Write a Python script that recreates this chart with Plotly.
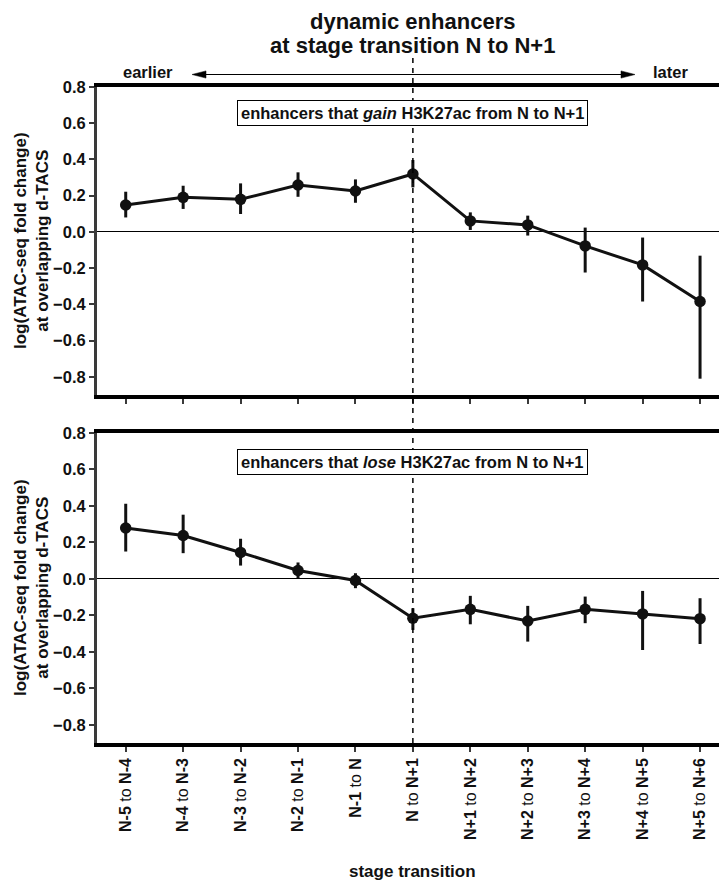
import plotly.graph_objects as go

# Stage transitions on the x axis
transitions = ["N-5 to N-4", "N-4 to N-3", "N-3 to N-2", "N-2 to N-1", "N-1 to N",
               "N to N+1", "N+1 to N+2", "N+2 to N+3", "N+3 to N+4", "N+4 to N+5",
               "N+5 to N+6"]

# Enhancers that gain H3K27ac: mean and interval bounds
gain_mean = [0.149, 0.191, 0.180, 0.259, 0.226, 0.320, 0.061, 0.039, -0.077, -0.182, -0.384]
gain_upper = [0.222, 0.255, 0.268, 0.329, 0.290, 0.397, 0.108, 0.090, 0.024, -0.031, -0.131]
gain_lower = [0.080, 0.127, 0.099, 0.194, 0.161, 0.246, 0.011, -0.020, -0.224, -0.384, -0.810]

# Enhancers that lose H3K27ac: mean and interval bounds
lose_mean = [0.279, 0.238, 0.145, 0.046, -0.009, -0.216, -0.167, -0.231, -0.167, -0.192, -0.218]
lose_upper = [0.412, 0.352, 0.220, 0.090, 0.031, -0.161, -0.093, -0.148, -0.097, -0.066, -0.106]
lose_lower = [0.150, 0.141, 0.073, 0.004, -0.051, -0.280, -0.249, -0.344, -0.243, -0.390, -0.357]

y_ticks = [-0.8, -0.6, -0.4, -0.2, 0.0, 0.2, 0.4, 0.6, 0.8]

FONT = "Liberation Sans, Arial, Helvetica, sans-serif"
INK = "#111111"
AXIS_GREY = "#3a3a3a"

W, H = 719, 880
ML, MR, MT, MB = 97, 0, 87, 137
PW, PH = W - ML - MR, H - MT - MB


def px_x(p):
    return (p - ML) / PW


def px_y(p):
    return (H - MB - p) / PH


def tick_text(label):
    a, b = label.split(" to ")
    return f"<b>{a}</b> to <b>{b}</b>"


def y_label(v):
    s = f"{abs(v):.1f}"
    return f"<b>{'\u2212' if v < 0 else ''}{s}</b>"


x_idx = list(range(len(transitions)))

fig = go.Figure()

for mean, upper, lower, xa, ya in [
    (gain_mean, gain_upper, gain_lower, "x", "y"),
    (lose_mean, lose_upper, lose_lower, "x2", "y2"),
]:
    fig.add_trace(go.Scatter(
        x=x_idx, y=mean, xaxis=xa, yaxis=ya,
        mode="lines+markers",
        line=dict(color=INK, width=3),
        marker=dict(color=INK, size=11.5),
        error_y=dict(
            type="data", symmetric=False,
            array=[u - m for u, m in zip(upper, mean)],
            arrayminus=[m - l for m, l in zip(mean, lower)],
            color=INK, thickness=3, width=0,
        ),
        showlegend=False, hoverinfo="skip",
    ))

x_range = [-0.5, 10.33]
common_x = dict(
    range=x_range, tickmode="array", tickvals=x_idx,
    showline=True, linecolor="black", linewidth=3.5, mirror=True,
    ticks="outside", ticklen=5, tickwidth=2, tickcolor=AXIS_GREY,
    showgrid=False, zeroline=False,
)
common_y = dict(
    range=[-0.9, 0.8], tickmode="array", tickvals=y_ticks,
    ticktext=[y_label(v) for v in y_ticks],
    showline=True, linecolor=AXIS_GREY, linewidth=3, mirror=False,
    ticks="outside", ticklen=5, tickwidth=2, tickcolor=AXIS_GREY,
    showgrid=False,
    zeroline=True, zerolinecolor="black", zerolinewidth=1,
    tickfont=dict(family=FONT, size=16.5, color=INK),
)

top_bottom = px_y(395)
bot_top = px_y(433)

fig.update_layout(
    width=W, height=H,
    margin=dict(l=ML, r=MR, t=MT, b=MB, pad=0),
    paper_bgcolor="white", plot_bgcolor="white",
    font=dict(family=FONT, color=INK),
    xaxis=dict(common_x, anchor="y", showticklabels=False),
    yaxis=dict(common_y, anchor="x", domain=[top_bottom, 1]),
    xaxis2=dict(common_x, anchor="y2", showticklabels=True,
                ticktext=[tick_text(t) for t in transitions],
                tickangle=-90,
                tickfont=dict(family=FONT, size=16, color=INK)),
    yaxis2=dict(common_y, anchor="x2", domain=[0, bot_top]),
)

# Dashed marker of the N to N+1 transition, spanning both panels
fig.add_shape(type="line", xref="x", yref="paper", x0=5, x1=5,
              y0=0, y1=px_y(58),
              line=dict(color="black", width=1.5, dash="5px,5px"),
              layer="above")

# Earlier/later direction arrow
arrow_y = 74.5
fig.add_shape(type="line", xref="paper", yref="paper",
              x0=px_x(200), x1=px_x(627), y0=px_y(arrow_y), y1=px_y(arrow_y),
              line=dict(color="black", width=1.2))
for tip, base in [(192, 206), (635, 621)]:
    fig.add_shape(
        type="path", xref="paper", yref="paper",
        path=(f"M {px_x(tip)},{px_y(arrow_y)} "
              f"L {px_x(base)},{px_y(arrow_y - 3.6)} "
              f"L {px_x(base)},{px_y(arrow_y + 3.6)} Z"),
        fillcolor="black", line=dict(color="black", width=0.5),
    )

annotations = [
    dict(text="<b>earlier</b>", xref="paper", yref="paper",
         x=px_x(148), y=px_y(72.5), showarrow=False,
         font=dict(size=16.5), xanchor="center", yanchor="middle"),
    dict(text="<b>later</b>", xref="paper", yref="paper",
         x=px_x(670.5), y=px_y(72.5), showarrow=False,
         font=dict(size=16.5), xanchor="center", yanchor="middle"),
    dict(text="<b>dynamic enhancers</b>", xref="x", yref="paper",
         x=5, y=px_y(21.5), showarrow=False,
         font=dict(size=22), xanchor="center", yanchor="middle"),
    dict(text="<b>at stage transition N to N+1</b>", xref="x", yref="paper",
         x=5, y=px_y(45.5), showarrow=False,
         font=dict(size=22), xanchor="center", yanchor="middle"),
    dict(text="<b>enhancers that <i>gain</i> H3K27ac from N to N+1</b>",
         xref="x", yref="paper", x=5, y=px_y(113), showarrow=False,
         font=dict(size=16.5), xanchor="center", yanchor="middle",
         bordercolor="black", borderwidth=1, borderpad=3, bgcolor="white"),
    dict(text="<b>enhancers that <i>lose</i> H3K27ac from N to N+1</b>",
         xref="x2", yref="paper", x=5, y=px_y(462), showarrow=False,
         font=dict(size=16.5), xanchor="center", yanchor="middle",
         bordercolor="black", borderwidth=1, borderpad=3, bgcolor="white"),
    dict(text="<b>stage transition</b>", xref="x2", yref="paper",
         x=5, y=px_y(871), showarrow=False,
         font=dict(size=17), xanchor="center", yanchor="middle"),
]
for ref in ["y", "y2"]:
    annotations.append(dict(
        text="<b>log(ATAC-seq fold change)<br>at overlapping d-TACS</b>",
        xref="paper", yref=f"{ref} domain", x=px_x(31), y=0.5,
        textangle=-90, showarrow=False, font=dict(size=17),
        xanchor="center", yanchor="middle",
    ))
fig.update_layout(annotations=annotations)

fig.write_html("out.html")
